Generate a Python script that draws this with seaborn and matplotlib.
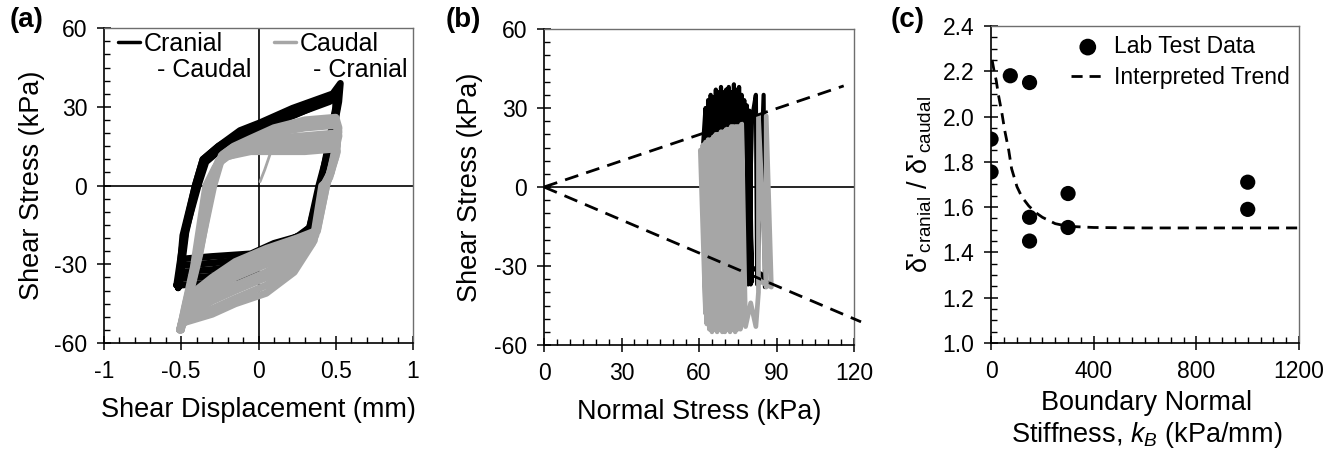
import matplotlib
matplotlib.use("Agg")
import matplotlib.pyplot as plt
import seaborn as sns
import pandas as pd
from matplotlib.ticker import MultipleLocator, FixedLocator

# ---------------- Panel (a): shear stress vs shear displacement ----------------
a_black_x = [
    [-0.52, -0.48, -0.41, -0.36, -0.26, -0.12, 0.01, 0.22, 0.48, 0.53, 0.52, 0.46, 0.41, 0.35, 0.28, 0.10, -0.05, -0.30, -0.50, -0.52],
    [-0.51, -0.47, -0.40, -0.35, -0.25, -0.11, 0.02, 0.23, 0.48, 0.52, 0.51, 0.45, 0.40, 0.34, 0.27, 0.10, -0.06, -0.30, -0.50, -0.51],
    [-0.52, -0.47, -0.39, -0.34, -0.24, -0.10, 0.03, 0.24, 0.47, 0.51, 0.50, 0.44, 0.40, 0.33, 0.27, 0.09, -0.06, -0.30, -0.50, -0.52],
    [-0.53, -0.48, -0.40, -0.35, -0.25, -0.11, 0.02, 0.23, 0.46, 0.50, 0.50, 0.44, 0.39, 0.33, 0.26, 0.08, -0.05, -0.30, -0.51, -0.53],
    [-0.52, -0.49, -0.41, -0.36, -0.26, -0.12, 0.01, 0.22, 0.47, 0.52, 0.51, 0.45, 0.40, 0.34, 0.27, 0.09, -0.05, -0.30, -0.51, -0.52],
]
a_black_y = [
    [-38, -18, 0, 10, 15, 21, 24, 29.5, 35, 39, 32, 13, 0, -17, -19, -22, -26, -27, -28, -38],
    [-37, -18, 0, 10, 14, 20, 23, 28, 34, 37, 31, 12, 0, -17, -19, -23, -28, -29.5, -30.5, -37],
    [-36, -17, 0, 9, 14, 19, 22, 27, 33, 36, 30, 12, 0, -16, -19, -24, -30, -32, -33, -36],
    [-38, -18, 0, 9, 14, 19, 22, 27, 32, 35, 29, 11, 0, -16, -19, -25, -32, -34.5, -35.5, -38],
    [-39, -19, 0, 10, 15, 20, 23, 28, 33, 37, 30, 12, 0, -17, -20, -26, -34, -37, -38, -39],
]
a_gray_x = [
    [-0.49, -0.45, -0.38, -0.29, -0.23, -0.16, -0.05, 0.10, 0.30, 0.50, 0.52, 0.48, 0.44, 0.38, 0.25, 0.05, -0.15, -0.30, -0.45, -0.49],
    [-0.50, -0.45, -0.38, -0.30, -0.24, -0.17, -0.05, 0.10, 0.30, 0.50, 0.52, 0.47, 0.44, 0.38, 0.25, 0.05, -0.15, -0.30, -0.46, -0.50],
    [-0.50, -0.46, -0.39, -0.30, -0.24, -0.17, -0.05, 0.10, 0.30, 0.50, 0.52, 0.47, 0.43, 0.37, 0.25, 0.05, -0.15, -0.30, -0.46, -0.50],
    [-0.50, -0.47, -0.40, -0.31, -0.25, -0.18, -0.05, 0.10, 0.30, 0.50, 0.51, 0.47, 0.43, 0.37, 0.25, 0.05, -0.15, -0.30, -0.47, -0.50],
    [-0.51, -0.47, -0.40, -0.32, -0.26, -0.19, -0.05, 0.10, 0.30, 0.50, 0.51, 0.46, 0.42, 0.36, 0.25, 0.05, -0.15, -0.30, -0.47, -0.51],
    [-0.51, -0.47, -0.41, -0.32, -0.26, -0.19, -0.05, 0.10, 0.30, 0.50, 0.51, 0.46, 0.42, 0.36, 0.25, 0.05, -0.15, -0.30, -0.47, -0.51],
    [-0.50, -0.47, -0.41, -0.33, -0.27, -0.20, -0.05, 0.10, 0.30, 0.50, 0.51, 0.46, 0.42, 0.36, 0.24, 0.05, -0.15, -0.30, -0.47, -0.50],
    [-0.50, -0.48, -0.42, -0.34, -0.28, -0.21, -0.05, 0.10, 0.30, 0.50, 0.50, 0.45, 0.41, 0.35, 0.23, 0.05, -0.15, -0.30, -0.47, -0.50],
]
a_gray_y = [
    [-52, -42, -25, 0, 12, 15, 18, 22, 25, 26, 22, 8, 0, -17, -20, -24, -29, -35, -42, -52],
    [-53, -43, -26, 0, 11.5, 14.5, 17.5, 21, 23.5, 24.5, 20.5, 7, 0, -17.5, -21, -26, -30.5, -36.5, -43.5, -53],
    [-54, -44, -27, 0, 11, 14, 17, 20, 22, 23, 19, 6, 0, -18, -22, -28, -33, -38, -45, -54],
    [-55, -45, -28, 0, 10, 13, 16, 18, 19, 20, 17, 5, 0, -19, -24, -30, -35, -40.5, -47, -55],
    [-55, -45, -28, 0, 9.5, 12.5, 15.5, 17, 18, 19, 16, 4.5, 0, -19.5, -25.5, -33, -38, -42.5, -49, -55],
    [-55, -46, -29, 0, 9, 12, 15, 16, 17, 18, 15, 4, 0, -20, -27, -35, -40, -44, -50, -55],
    [-54, -46, -30, 0, 8, 11, 14, 15, 15, 16, 13, 3, 0, -21, -30, -38, -43, -47, -51, -54],
    [-53, -47, -31, 0, 7, 11, 13, 13, 13, 14, 11, 2, 0, -22, -33, -41, -45, -49, -52, -53],
]
a_init_x = [0.01, 0.04, 0.075]
a_init_y = [1.5, 6, 12]
a_xticks = [-1, -0.5, 0, 0.5, 1]
a_xticklabels = ["-1", "-0.5", "0", "0.5", "1"]
stress_ticks = [-60, -30, 0, 30, 60]
a_labels = ["Cranial", "Caudal"]
a_labels_2nd = ["- Caudal", "- Cranial"]

# ---------------- Panel (b): shear stress vs normal stress ----------------
b_black_x = [61.5, 62.5, 63, 63.5, 64, 64.5, 65, 65.5, 66, 66.5, 67, 67.5, 68, 68.5, 69, 69.5, 70,
             70.5, 71, 71.5, 72, 72.5, 73, 73.5, 74, 74.5, 75, 75.5, 76, 76.5, 77, 77.5, 78,
             78.5, 79, 79.5, 80, 79, 80.5, 79.5, 78.5, 80, 79, 80.5, 82, 82.5, 85, 85.5, 87, 84, 80]
b_black_y = [15, 30, -30, 33, -31, 35, -31, 34, -32, 37, -33, 36, -33, 38, -34, 36, -34,
             37, -35, 38, -35, 36, -35, 39, -35, 37, -36, 38, -36, 35, -36, 33, -37,
             31, -37, 29, -37, 25, -36, 22, -35, 24, -36, 26, 35, -37, 35, -38, -37, -33, -30]
b_gray_x = [60.5, 62.5, 61.5, 63, 62.5, 64, 63.5, 65, 64.5, 66, 65.5, 67, 66.5, 68, 67.5, 69,
            68.5, 70, 69.5, 71, 70.5, 72, 71.5, 73, 72.5, 74, 73.5, 75, 74.5, 76, 75.5, 77,
            76.5, 78, 80, 82, 83, 83, 86, 86, 88, 84]
b_gray_y = [14, -48, 16, -52, 17, -54, 18, -55, 18, -54, 19, -55, 20, -54, 20, -55,
            21, -55, 21, -54, 22, -55, 22, -54, 23, -55, 23, -54, 23, -54, 23, -52,
            24, -53, -44, -53, -40, 27, -38, 27, -38, -36]
b_upper_x = [0, 116]
b_upper_y = [0, 38.4]
b_lower_x = [0, 122.7]
b_lower_y = [0, -51.2]
b_xticks = [0, 30, 60, 90, 120]

# ---------------- Panel (c): ratio vs boundary stiffness ----------------
c_kb = [0, 0, 75, 150, 150, 150, 300, 300, 1000, 1000]
c_ratio = [1.90, 1.755, 2.18, 2.15, 1.555, 1.45, 1.66, 1.51, 1.71, 1.59]
c_trend_x = [4, 12, 20, 28, 43, 53, 69, 80, 101, 120, 147, 175, 200, 250, 300, 400, 600, 800, 1000, 1200]
c_trend_y = [2.25, 2.20, 2.16, 2.10, 2.01, 1.94, 1.85, 1.77, 1.69, 1.645, 1.605, 1.575, 1.555, 1.527, 1.515, 1.510, 1.508, 1.508, 1.508, 1.508]
c_xticks = [0, 400, 800, 1200]
c_yticks = [1.0, 1.2, 1.4, 1.6, 1.8, 2.0, 2.2, 2.4]

BLACK = "#000000"
GRAY = "#A6A6A6"

sns.set_theme(style="white")
plt.rcParams["font.family"] = ["Liberation Sans", "DejaVu Sans"]
plt.rcParams["mathtext.fontset"] = "custom"
plt.rcParams["mathtext.rm"] = "Liberation Sans"
plt.rcParams["mathtext.it"] = "Liberation Sans:italic"
plt.rcParams["mathtext.bf"] = "Liberation Sans:bold"
for key in ["text.color", "axes.labelcolor", "xtick.color", "ytick.color"]:
    plt.rcParams[key] = "black"
plt.rcParams["xtick.bottom"] = True
plt.rcParams["ytick.left"] = True
plt.rcParams["xtick.major.size"] = 10
plt.rcParams["ytick.major.size"] = 10
plt.rcParams["xtick.major.width"] = 1.1
plt.rcParams["ytick.major.width"] = 1.1

TICK_FS = 16.5
LABEL_FS = 19.5

fig = plt.figure(figsize=(13.38, 4.51), dpi=100)
ax_a = fig.add_axes([0.0777, 0.2395, 0.231, 0.698])
ax_b = fig.add_axes([0.4066, 0.235, 0.2317, 0.7007])
ax_c = fig.add_axes([0.7407, 0.2395, 0.2302, 0.703])


def style_axes(ax):
    for side in ["left", "bottom"]:
        ax.spines[side].set_color("black")
        ax.spines[side].set_linewidth(1.2)
    for side in ["top", "right"]:
        ax.spines[side].set_color("#6e6e6e")
        ax.spines[side].set_linewidth(1.0)
    ax.tick_params(which="major", direction="inout", length=10, width=1.1,
                   labelsize=TICK_FS, color="black", labelcolor="black", pad=7,
                   top=False, right=False, bottom=True, left=True)
    ax.tick_params(which="minor", direction="in", length=4, width=1.0,
                   top=False, right=False, bottom=True, left=True, color="black")
    ax.grid(False)


def draw_path(ax, xs, ys, color, lw, z=2):
    df = pd.DataFrame({"x": xs, "y": ys})
    sns.lineplot(data=df, x="x", y="y", sort=False, estimator=None, color=color,
                 lw=lw, ax=ax, zorder=z, legend=False)
    ln = ax.lines[-1]
    ln.set_solid_joinstyle("round")
    ln.set_solid_capstyle("round")
    return ln


# ---- (a)
ax = ax_a
ax.axhline(0, color="black", lw=1.2, zorder=1)
ax.axvline(0, color="black", lw=1.2, zorder=1)
black_lines = [draw_path(ax, xs, ys, BLACK, 4.8, z=2) for xs, ys in zip(a_black_x, a_black_y)]
draw_path(ax, a_init_x, a_init_y, GRAY, 2.0, z=3)
gray_lines = [draw_path(ax, xs, ys, GRAY, 5.2, z=3) for xs, ys in zip(a_gray_x, a_gray_y)]
ax.set_xlim(-1, 1)
ax.set_ylim(-60, 60)
style_axes(ax)
ax.xaxis.set_major_locator(FixedLocator(a_xticks))
ax.set_xticklabels(a_xticklabels)
ax.xaxis.set_minor_locator(MultipleLocator(0.1))
ax.yaxis.set_major_locator(FixedLocator(stress_ticks))
ax.set_yticklabels([str(t) for t in stress_ticks])
ax.yaxis.set_minor_locator(MultipleLocator(5))
ax.set_xlabel("Shear Displacement (mm)", fontsize=LABEL_FS)
ax.set_ylabel("Shear Stress (kPa)", fontsize=LABEL_FS)
ax.xaxis.set_label_coords(0.5, -0.172)
ax.yaxis.set_label_coords(-0.19, 0.5)
leg = ax.legend([black_lines[0], gray_lines[0]], a_labels, loc="upper left", ncol=2,
                bbox_to_anchor=(0.013, 1.021), borderaxespad=0.0,
                frameon=False, fontsize=18, handlelength=0.9, handletextpad=0.12,
                columnspacing=2.05)
for h in leg.legend_handles:
    h.set_linewidth(2.5)
for txt, second in zip(leg.get_texts(), a_labels_2nd):
    ax.annotate(second, xy=(0, 0), xycoords=txt, xytext=(10, -1.5),
                textcoords="offset points", va="top", ha="left", fontsize=18,
                zorder=10)

# ---- (b)
ax = ax_b
ax.axhline(0, color="black", lw=1.2, zorder=1)
draw_path(ax, b_black_x, b_black_y, BLACK, 3.0, z=2)
draw_path(ax, b_gray_x, b_gray_y, GRAY, 3.4, z=3)
sns.lineplot(x=b_upper_x, y=b_upper_y, color="black", lw=2.0, ax=ax, zorder=4)
ax.lines[-1].set_dashes((5, 3))
sns.lineplot(x=b_lower_x, y=b_lower_y, color="black", lw=2.0, ax=ax, zorder=4)
ax.lines[-1].set_dashes((5, 3))
ax.lines[-1].set_clip_on(False)
ax.set_xlim(0, 120)
ax.set_ylim(-60, 60)
style_axes(ax)
ax.xaxis.set_major_locator(FixedLocator(b_xticks))
ax.set_xticklabels([str(t) for t in b_xticks])
ax.xaxis.set_minor_locator(MultipleLocator(5))
ax.yaxis.set_major_locator(FixedLocator(stress_ticks))
ax.set_yticklabels([str(t) for t in stress_ticks])
ax.yaxis.set_minor_locator(MultipleLocator(5))
ax.set_xlabel("Normal Stress (kPa)", fontsize=LABEL_FS)
ax.set_ylabel("Shear Stress (kPa)", fontsize=LABEL_FS)
ax.xaxis.set_label_coords(0.5, -0.172)
ax.yaxis.set_label_coords(-0.197, 0.5)

# ---- (c)
ax = ax_c
sns.scatterplot(x=c_kb, y=c_ratio, s=120, color="black", edgecolor="none", ax=ax,
                zorder=3, label="Lab Test Data", legend=False)
sns.lineplot(x=c_trend_x, y=c_trend_y, color="black", lw=2.0, ax=ax, zorder=2,
             label="Interpreted Trend", legend=False)
ax.lines[-1].set_dashes((4, 2.5))
ax.set_xlim(0, 1200)
ax.set_ylim(1.0, 2.4)
style_axes(ax)
ax.xaxis.set_major_locator(FixedLocator(c_xticks))
ax.set_xticklabels([str(t) for t in c_xticks])
ax.xaxis.set_minor_locator(MultipleLocator(50))
ax.yaxis.set_major_locator(FixedLocator(c_yticks))
ax.set_yticklabels([f"{t:.1f}" for t in c_yticks])
ax.yaxis.set_minor_locator(MultipleLocator(0.05))
ax.set_xlabel("Boundary Normal\nStiffness, $k_B$ (kPa/mm)", fontsize=LABEL_FS,
              linespacing=1.2)
ax.set_ylabel("δ'$_{\\mathrm{cranial}}$ / δ'$_{\\mathrm{caudal}}$", fontsize=LABEL_FS)
ax.xaxis.set_label_coords(0.506, -0.148)
ax.yaxis.set_label_coords(-0.185, 0.5)
h, l = ax.get_legend_handles_labels()
ax.legend(h, l, loc="upper right", frameon=False, fontsize=16.5, handlelength=1.5,
          handletextpad=0.4, borderaxespad=0.0, labelspacing=0.35, markerscale=1.1)

# panel letters
fig.text(0.0075, 0.985, "(a)", fontsize=20, fontweight="bold", va="top", ha="left")
fig.text(0.333, 0.985, "(b)", fontsize=20, fontweight="bold", va="top", ha="left")
fig.text(0.666, 0.985, "(c)", fontsize=20, fontweight="bold", va="top", ha="left")

fig.savefig("out.png", dpi=100, facecolor="white")
